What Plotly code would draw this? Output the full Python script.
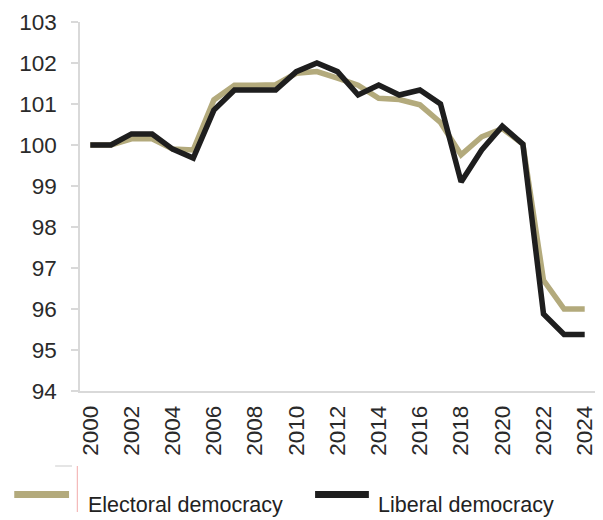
import plotly.graph_objects as go

# Index values, 2000 = 100
years = list(range(2000, 2025))
electoral = [100.0, 100.0, 100.15, 100.15, 99.9, 99.88, 101.1, 101.46, 101.46, 101.47,
             101.75, 101.79, 101.63, 101.46, 101.14, 101.11, 100.98, 100.55, 99.76, 100.2,
             100.4, 100.02, 96.7, 96.0, 96.0]
liberal = [100.0, 100.0, 100.27, 100.27, 99.9, 99.68, 100.85, 101.34, 101.34, 101.34,
           101.79, 102.0, 101.79, 101.22, 101.46, 101.22, 101.34, 101.0, 99.1, 99.88,
           100.46, 100.02, 95.88, 95.38, 95.38]
series_names = ["Electoral democracy", "Liberal democracy"]
series_colors = ["#b3aa7c", "#1e1e1e"]
y_ticks = list(range(94, 104))
x_ticks = list(range(2000, 2025, 2))

W, H = 603, 520
L, R, T, B = 80, 6, 22, 129


def px_x(p):
    return (p - L) / (W - L - R)


def px_y(p):
    return (H - B - p) / (H - T - B)


fig = go.Figure()
for name, vals, col in zip(series_names, [electoral, liberal], series_colors):
    fig.add_trace(go.Scatter(x=years, y=vals, mode="lines", name=name,
                             line=dict(color=col, width=5.5), showlegend=False))

tick_font = dict(family="Liberation Sans, Arial, sans-serif", size=22.5, color="#2a2a2a")

fig.update_xaxes(range=[1999.5, 2024.5], tickvals=x_ticks, ticktext=[str(v) for v in x_ticks],
                 tickangle=-90, showgrid=False, zeroline=False, showline=True,
                 linecolor="#d9d9d9", linewidth=1.5, ticks="", tickfont=tick_font,
                 ticklabelstandoff=4)
fig.update_yaxes(range=[94, 103], tickvals=y_ticks, showgrid=False, zeroline=False,
                 showline=True, linecolor="#d9d9d9", linewidth=1.5, ticks="outside",
                 ticklen=7, tickcolor="#d9d9d9", tickwidth=1.5, tickfont=tick_font,
                 ticklabelstandoff=10)

# Legend built from swatches and labels below the axis
legend_font = dict(family="Liberation Sans, Arial, sans-serif", size=21.5, color="#222222")
swatches = [(14, 69, 86), (316, 370, 377)]
for (x0, x1, tx), name, col in zip(swatches, series_names, series_colors):
    fig.add_shape(type="rect", xref="paper", yref="paper",
                  x0=px_x(x0), x1=px_x(x1), y0=px_y(498), y1=px_y(491),
                  fillcolor=col, line=dict(width=0))
    fig.add_annotation(text=name, xref="paper", yref="paper", x=px_x(tx), y=px_y(505),
                       xanchor="left", yanchor="middle", showarrow=False, font=legend_font)

fig.add_shape(type="line", xref="paper", yref="paper", x0=px_x(77.3), x1=px_x(77.3),
              y0=px_y(466), y1=px_y(512), line=dict(color="#f2aaaa", width=1))
fig.add_shape(type="line", xref="paper", yref="paper", x0=px_x(55), x1=px_x(72),
              y0=px_y(466), y1=px_y(466), line=dict(color="#dddddd", width=1.5))

fig.update_layout(width=W, height=H, margin=dict(l=L, r=R, t=T, b=B),
                  plot_bgcolor="white", paper_bgcolor="white")

fig.write_html("out.html")
